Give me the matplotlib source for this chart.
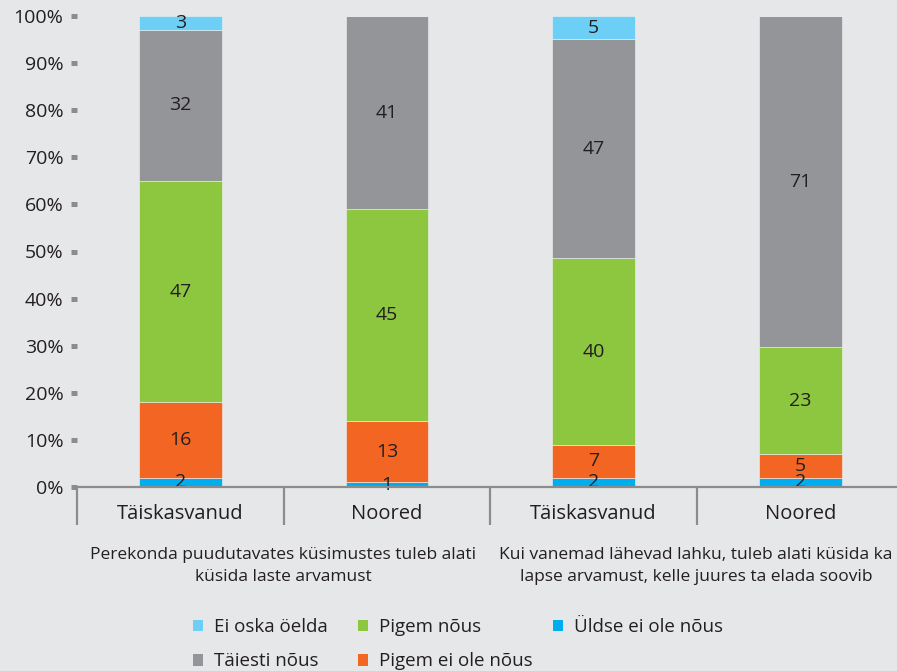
import matplotlib
matplotlib.use("Agg")
import matplotlib.pyplot as plt
from matplotlib.patches import Patch
import numpy as np

plt.rcParams['font.family'] = ['Open Sans', 'DejaVu Sans']

categories = ["Täiskasvanud", "Noored", "Täiskasvanud", "Noored"]
group_labels = [
    "Perekonda puudutavates küsimustes tuleb alati\nküsida laste arvamust",
    "Kui vanemad lähevad lahku, tuleb alati küsida ka\nlapse arvamust, kelle juures ta elada soovib",
]

# Stack order, bottom to top
series_names = ["Üldse ei ole nõus", "Pigem ei ole nõus", "Pigem nõus", "Täiesti nõus", "Ei oska öelda"]
uldse_ei = [2, 1, 2, 2]
pigem_ei = [16, 13, 7, 5]
pigem_nous = [47, 45, 40, 23]
taiesti_nous = [32, 41, 47, 71]
ei_oska = [3, 0, 5, 0]

colors = {
    "Üldse ei ole nõus": "#00aeef",
    "Pigem ei ole nõus": "#f26522",
    "Pigem nõus": "#8dc63f",
    "Täiesti nõus": "#939598",
    "Ei oska öelda": "#6dcff6",
}

bg = "#e6e7e8"
axis_gray = "#8c8c8c"
text_col = "#231f20"

fig = plt.figure(figsize=(8.97, 6.71), dpi=100, facecolor=bg)
W, H = 897, 671
ax = fig.add_axes([77 / W, (H - 487) / H, (903.5 - 77) / W, (487 - 16) / H])
ax.set_facecolor(bg)

values = np.array([uldse_ei, pigem_ei, pigem_nous, taiesti_nous, ei_oska], dtype=float)
totals = values.sum(axis=0)
shares = values / totals * 100  # 100% stacked
x = np.arange(len(categories))
bottom = np.zeros(len(categories))
bar_w = 0.4
for name, raw, share in zip(series_names, values, shares):
    ax.bar(x, share, bar_w, bottom=bottom, color=colors[name],
           edgecolor="#f2f2f2", linewidth=0.4, zorder=2)
    for xi, r, s, b in zip(x, raw, share, bottom):
        if r > 0:
            ax.text(xi, b + s / 2, f"{int(r)}", ha="center", va="center",
                    fontsize=14, color=text_col, zorder=3)
    bottom += share

ax.set_xlim(-0.5, 3.5)
ax.set_ylim(0, 100)

for s in ["top", "right", "left"]:
    ax.spines[s].set_visible(False)
ax.spines["bottom"].set_color(axis_gray)
ax.spines["bottom"].set_linewidth(1.6)
ax.spines["bottom"].set_zorder(4)

ax.set_yticks(np.arange(0, 101, 10))
ax.set_yticklabels([f"{v}%" for v in range(0, 101, 10)])
ax.tick_params(axis="y", length=4.3, width=3.6, color=axis_gray, pad=5.5,
               labelsize=14, labelcolor=text_col)

ax.set_xticks(x)
ax.set_xticklabels(categories)
ax.tick_params(axis="x", which="major", length=0, pad=12, labelsize=14.5, labelcolor=text_col)
ax.set_xticks(np.arange(-0.5, 4.0, 1.0), minor=True)
ax.tick_params(axis="x", which="minor", length=27, width=1.6, color=axis_gray, direction="out")

for gx, lbl in zip([283, 696], group_labels):
    fig.text(gx / W, 1 - 566 / H, lbl, ha="center", va="center", fontsize=12.5,
             color=text_col, linespacing=1.5)

# Legend laid out as three columns at fixed positions
legend_cols = [
    (193, ["Ei oska öelda", "Täiesti nõus"]),
    (358, ["Pigem nõus", "Pigem ei ole nõus"]),
    (553, ["Üldse ei ole nõus"]),
]
for x_left, names in legend_cols:
    handles = [Patch(facecolor=colors[n], edgecolor="none") for n in names]
    fig.legend(handles, names, loc="upper left", bbox_to_anchor=(x_left / W, 1 - 618 / H),
               frameon=False, fontsize=13.5, labelcolor=text_col, handlelength=0.55,
               handleheight=0.55, handletextpad=0.55, labelspacing=0.88,
               borderpad=0, borderaxespad=0)

fig.savefig("out.png", dpi=100, facecolor=bg)
